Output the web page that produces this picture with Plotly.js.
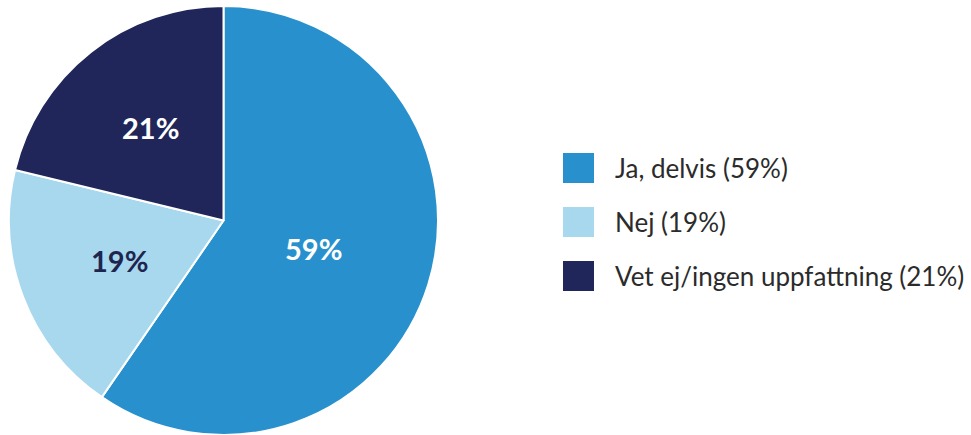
<!DOCTYPE html>
<html>
<head>
<meta charset="utf-8">
<script src="https://cdn.plot.ly/plotly-3.0.1.min.js"></script>
<style>html,body{margin:0;padding:0;background:#fff;}#chart{width:971px;height:435px;}</style>
</head>
<body>
<div id="chart"></div>
<script>
const categories = ["Ja, delvis", "Nej", "Vet ej/ingen uppfattning"];
const values = [59, 19, 21];
const sliceLabels = ["59%", "19%", "21%"];
const legendLabels = ["Ja, delvis (59%)", "Nej (19%)", "Vet ej/ingen uppfattning (21%)"];
const colors = ["#2891CD", "#A8D8EE", "#202659"];
const textColors = ["#ffffff", "#1E2650", "#ffffff"];

const W = 971, H = 435, T = 6;
const CX = 223.5, CY = 220.5, R = 214.5;
const labelRadiusFrac = [0.44, 0.52, 0.55];
const px = x => x / W;
const py = y => 1 - (y - T) / (H - T);

const trace = {
  type: "pie",
  labels: categories,
  values: values,
  textinfo: "none",
  sort: false,
  direction: "clockwise",
  rotation: 0,
  marker: {colors: colors, line: {color: "#ffffff", width: 2}},
  domain: {x: [(CX - R) / W, (CX + R) / W], y: [0, 1]},
  showlegend: false,
  hoverinfo: "label+percent"
};

const shapes = [];
const annotations = [];
const total = values.reduce((a, b) => a + b, 0);
let cum = 0;
values.forEach((v, i) => {
  const mid = (cum + v / 2) / total * 2 * Math.PI;
  cum += v;
  const r = R * labelRadiusFrac[i];
  annotations.push({xref: "paper", yref: "paper",
    x: px(CX + r * Math.sin(mid)), y: py(CY - r * Math.cos(mid)),
    xanchor: "center", yanchor: "middle", showarrow: false, text: sliceLabels[i],
    font: {family: "Lato, sans-serif", size: 29, color: textColors[i], weight: 700}});
});
legendLabels.forEach((lab, i) => {
  const top = 153 + i * 54;
  shapes.push({type: "rect", xref: "paper", yref: "paper",
    x0: px(563), x1: px(594), y0: py(top), y1: py(top + 30),
    fillcolor: colors[i], line: {width: 0}});
  annotations.push({xref: "paper", yref: "paper", x: px(613), y: py(top + 15),
    xanchor: "left", yanchor: "middle", showarrow: false, text: lab,
    font: {family: "Lato, sans-serif", size: 26, color: "#2b2b2b"}});
});

Plotly.newPlot("chart", [trace], {
  width: W, height: H,
  margin: {l: 0, r: 0, t: T, b: 0},
  paper_bgcolor: "#ffffff",
  showlegend: false,
  shapes: shapes,
  annotations: annotations
}, {displayModeBar: false, staticPlot: true});
</script>
</body>
</html>
